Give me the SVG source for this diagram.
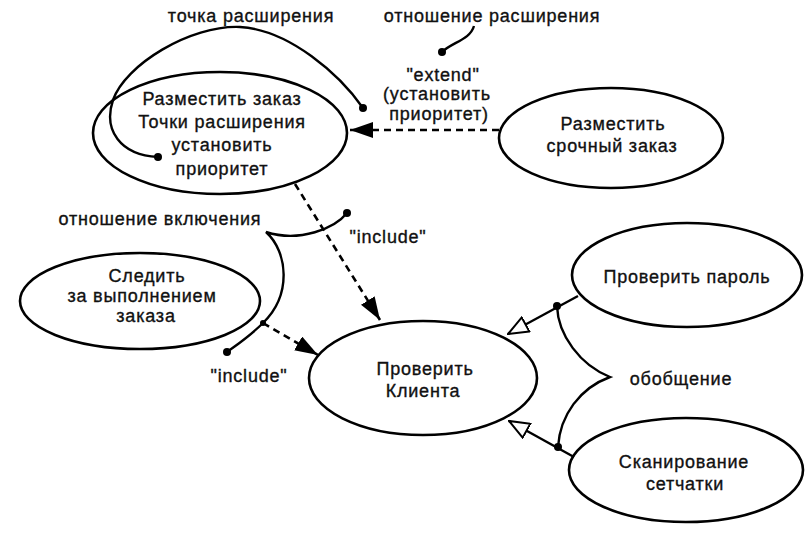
<svg xmlns="http://www.w3.org/2000/svg" width="810" height="536" viewBox="0 0 810 536">
<style>
.uc{fill:none;stroke:#000;stroke-width:2.6}
.t{font-family:"Liberation Sans",Arial,sans-serif;font-size:18px;letter-spacing:0.8px;fill:#111;stroke:#111;stroke-width:0.35;text-anchor:middle}
.ln{fill:none;stroke:#000;stroke-width:2.4}
.dash{fill:none;stroke:#000;stroke-width:2.6;stroke-dasharray:7 5}
.dot{fill:#000}
</style>
<defs>
<marker id="filled" markerUnits="userSpaceOnUse" viewBox="0 0 23 16" refX="23" refY="8" markerWidth="23" markerHeight="16" orient="auto">
<path d="M0,0 L23,8 L0,16 z" fill="#000"/>
</marker>
<marker id="hollow" markerUnits="userSpaceOnUse" viewBox="0 0 22 18" refX="21" refY="9" markerWidth="22" markerHeight="18" orient="auto">
<path d="M1,1 L21,9 L1,17 z" fill="#fff" stroke="#000" stroke-width="2"/>
</marker>
</defs>
<rect width="810" height="536" fill="#fff"/>

<g id="place-order">
<ellipse class="uc" cx="220" cy="133" rx="127" ry="61"/>
<text class="t" x="222" y="105">Разместить заказ</text>
<text class="t" x="222" y="128">Точки расширения</text>
<text class="t" x="222" y="151">установить</text>
<text class="t" x="222" y="175">приоритет</text>
</g>

<g id="urgent-order">
<ellipse class="uc" cx="611" cy="138" rx="112" ry="50"/>
<text class="t" x="613" y="130">Разместить</text>
<text class="t" x="612" y="152">срочный заказ</text>
</g>

<g id="track-order">
<ellipse class="uc" cx="140" cy="301" rx="120" ry="48"/>
<text class="t" x="147" y="282">Следить</text>
<text class="t" x="142" y="302">за выполнением</text>
<text class="t" x="146" y="322">заказа</text>
</g>

<g id="check-client">
<ellipse class="uc" cx="423" cy="378" rx="114" ry="57"/>
<text class="t" x="425" y="375">Проверить</text>
<text class="t" x="423" y="397">Клиента</text>
</g>

<g id="check-password">
<ellipse class="uc" cx="687" cy="275" rx="115" ry="52"/>
<text class="t" x="687" y="283">Проверить пароль</text>
</g>

<g id="retina-scan">
<ellipse class="uc" cx="686" cy="470" rx="117" ry="52"/>
<text class="t" x="684" y="468">Сканирование</text>
<text class="t" x="685" y="490">сетчатки</text>
</g>

<g id="connectors">
<path class="dash" d="M499,130 L350,130" marker-end="url(#filled)"/>
<path class="dash" d="M295,184 L380,320" marker-end="url(#filled)"/>
<path class="dash" d="M263,323 L318,355" marker-end="url(#filled)"/>
<path class="ln" d="M578,296 L508,334" marker-end="url(#hollow)"/>
<path class="ln" d="M574,457 L509,421" marker-end="url(#hollow)"/>
</g>

<g id="annotations">
<path class="ln" d="M363,108 C340,75 290,30 240,27 C190,25 125,65 113,100 C103,130 120,155 158,157"/>
<circle class="dot" cx="363" cy="108" r="4"/>
<circle class="dot" cx="158" cy="157" r="4"/>
<path class="ln" d="M474,26 C470,40 452,42 442,52"/>
<circle class="dot" cx="442" cy="52" r="4"/>
<path class="ln" d="M347,213 C335,228 300,243 266,232 C288,252 292,295 263,323 C250,336 238,344 227,352"/>
<circle class="dot" cx="347" cy="213" r="4"/>
<circle class="dot" cx="263" cy="323" r="3"/>
<circle class="dot" cx="227" cy="352" r="4"/>
<path class="ln" d="M557,306 C558,335 580,365 610,377 C580,388 560,415 558,447"/>
<circle class="dot" cx="557" cy="306" r="4"/>
<circle class="dot" cx="558" cy="447" r="4"/>
<text class="t" x="251" y="22">точка расширения</text>
<text class="t" x="492" y="22">отношение расширения</text>
<text class="t" x="443" y="81">"extend"</text>
<text class="t" x="437" y="100">(установить</text>
<text class="t" x="439" y="120">приоритет)</text>
<text class="t" x="160" y="225">отношение включения</text>
<text class="t" x="388" y="243">"include"</text>
<text class="t" x="249" y="382">"include"</text>
<text class="t" x="681" y="385">обобщение</text>
</g>
</svg>
